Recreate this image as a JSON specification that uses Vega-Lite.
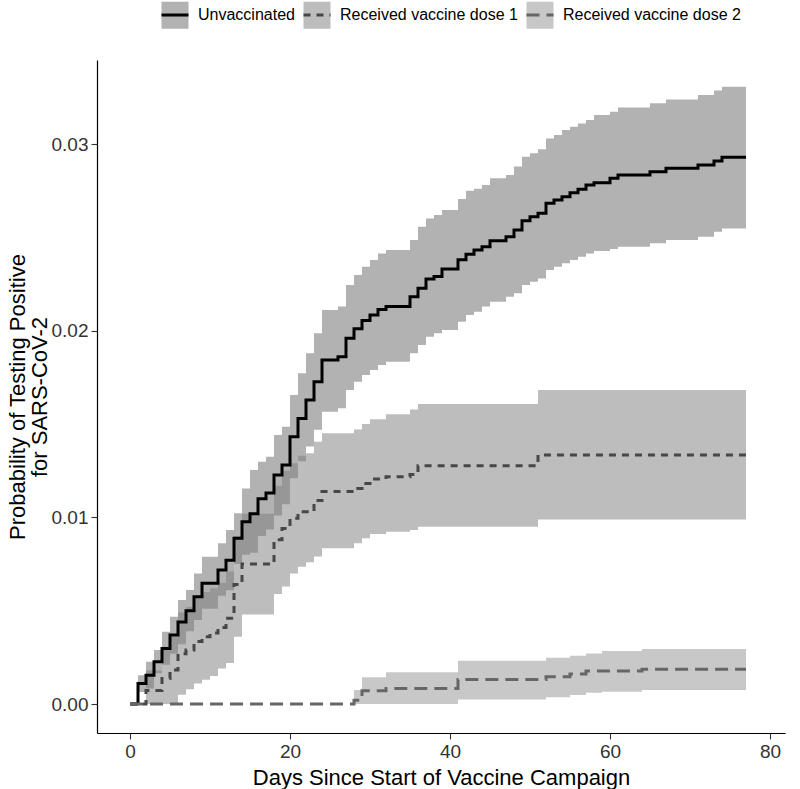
{
  "$schema": "https://vega.github.io/schema/vega-lite/v6.json",
  "width": 688,
  "height": 673,
  "autosize": {"type": "none"},
  "padding": {"left": 97, "top": 60, "right": 15, "bottom": 56},
  "background": "white",
  "config": {
    "view": {"stroke": null},
    "font": "Liberation Sans",
    "legend": {"labelLimit": 400},
    "axis": {
      "grid": false,
      "domainColor": "#000000",
      "domainWidth": 1.2,
      "tickColor": "#333333",
      "tickWidth": 1.1,
      "tickSize": 6,
      "labelColor": "#333333",
      "labelFont": "Liberation Sans",
      "labelFontSize": 19,
      "labelPadding": 3,
      "titleFont": "Liberation Sans",
      "titleFontSize": 22,
      "titleFontWeight": "normal",
      "titleColor": "#000000"
    }
  },
  "datasets": {
    "bands": [
      {"series": "Unvaccinated CI", "day": 0, "lo": 0, "hi": 0},
      {"series": "Unvaccinated CI", "day": 1, "lo": 0.00065, "hi": 0.00155},
      {"series": "Unvaccinated CI", "day": 2, "lo": 0.00083, "hi": 0.00227},
      {"series": "Unvaccinated CI", "day": 3, "lo": 0.00165, "hi": 0.00289},
      {"series": "Unvaccinated CI", "day": 4, "lo": 0.0021, "hi": 0.00387},
      {"series": "Unvaccinated CI", "day": 5, "lo": 0.0027, "hi": 0.00468},
      {"series": "Unvaccinated CI", "day": 6, "lo": 0.0032, "hi": 0.00557},
      {"series": "Unvaccinated CI", "day": 7, "lo": 0.0039, "hi": 0.00611},
      {"series": "Unvaccinated CI", "day": 8, "lo": 0.0045, "hi": 0.007},
      {"series": "Unvaccinated CI", "day": 9, "lo": 0.0051, "hi": 0.00789},
      {"series": "Unvaccinated CI", "day": 11, "lo": 0.0058, "hi": 0.00861},
      {"series": "Unvaccinated CI", "day": 12, "lo": 0.0061, "hi": 0.00932},
      {"series": "Unvaccinated CI", "day": 13, "lo": 0.0075, "hi": 0.01022},
      {"series": "Unvaccinated CI", "day": 14, "lo": 0.008, "hi": 0.01155},
      {"series": "Unvaccinated CI", "day": 15, "lo": 0.0081, "hi": 0.01254},
      {"series": "Unvaccinated CI", "day": 16, "lo": 0.009, "hi": 0.01298},
      {"series": "Unvaccinated CI", "day": 17, "lo": 0.00935, "hi": 0.01325},
      {"series": "Unvaccinated CI", "day": 18, "lo": 0.0101, "hi": 0.01441},
      {"series": "Unvaccinated CI", "day": 19, "lo": 0.0107, "hi": 0.01486},
      {"series": "Unvaccinated CI", "day": 20, "lo": 0.0121, "hi": 0.01655},
      {"series": "Unvaccinated CI", "day": 21, "lo": 0.013, "hi": 0.01772},
      {"series": "Unvaccinated CI", "day": 22, "lo": 0.0138, "hi": 0.01879},
      {"series": "Unvaccinated CI", "day": 23, "lo": 0.0147, "hi": 0.01986},
      {"series": "Unvaccinated CI", "day": 24, "lo": 0.01566, "hi": 0.02111},
      {"series": "Unvaccinated CI", "day": 26, "lo": 0.01584, "hi": 0.02129},
      {"series": "Unvaccinated CI", "day": 27, "lo": 0.01682, "hi": 0.02245},
      {"series": "Unvaccinated CI", "day": 28, "lo": 0.01727, "hi": 0.02298},
      {"series": "Unvaccinated CI", "day": 29, "lo": 0.01763, "hi": 0.02343},
      {"series": "Unvaccinated CI", "day": 30, "lo": 0.01789, "hi": 0.02379},
      {"series": "Unvaccinated CI", "day": 31, "lo": 0.01816, "hi": 0.02414},
      {"series": "Unvaccinated CI", "day": 32, "lo": 0.01834, "hi": 0.02432},
      {"series": "Unvaccinated CI", "day": 35, "lo": 0.01879, "hi": 0.02486},
      {"series": "Unvaccinated CI", "day": 36, "lo": 0.01923, "hi": 0.02557},
      {"series": "Unvaccinated CI", "day": 37, "lo": 0.01968, "hi": 0.02601},
      {"series": "Unvaccinated CI", "day": 38, "lo": 0.01986, "hi": 0.0262},
      {"series": "Unvaccinated CI", "day": 39, "lo": 0.02004, "hi": 0.02646},
      {"series": "Unvaccinated CI", "day": 41, "lo": 0.02048, "hi": 0.02705},
      {"series": "Unvaccinated CI", "day": 42, "lo": 0.02084, "hi": 0.0275},
      {"series": "Unvaccinated CI", "day": 43, "lo": 0.02102, "hi": 0.0276},
      {"series": "Unvaccinated CI", "day": 44, "lo": 0.02129, "hi": 0.0278},
      {"series": "Unvaccinated CI", "day": 45, "lo": 0.02155, "hi": 0.02816},
      {"series": "Unvaccinated CI", "day": 47, "lo": 0.02182, "hi": 0.02834},
      {"series": "Unvaccinated CI", "day": 48, "lo": 0.022, "hi": 0.02879},
      {"series": "Unvaccinated CI", "day": 49, "lo": 0.02245, "hi": 0.02932},
      {"series": "Unvaccinated CI", "day": 50, "lo": 0.02262, "hi": 0.0295},
      {"series": "Unvaccinated CI", "day": 51, "lo": 0.0228, "hi": 0.02972},
      {"series": "Unvaccinated CI", "day": 52, "lo": 0.02325, "hi": 0.0303},
      {"series": "Unvaccinated CI", "day": 53, "lo": 0.02343, "hi": 0.03048},
      {"series": "Unvaccinated CI", "day": 54, "lo": 0.02361, "hi": 0.03075},
      {"series": "Unvaccinated CI", "day": 55, "lo": 0.02379, "hi": 0.03093},
      {"series": "Unvaccinated CI", "day": 56, "lo": 0.02396, "hi": 0.0311},
      {"series": "Unvaccinated CI", "day": 57, "lo": 0.02414, "hi": 0.03129},
      {"series": "Unvaccinated CI", "day": 58, "lo": 0.02427, "hi": 0.03155},
      {"series": "Unvaccinated CI", "day": 60, "lo": 0.02437, "hi": 0.03173},
      {"series": "Unvaccinated CI", "day": 61, "lo": 0.0245, "hi": 0.03196},
      {"series": "Unvaccinated CI", "day": 65, "lo": 0.02468, "hi": 0.03218},
      {"series": "Unvaccinated CI", "day": 67, "lo": 0.02486, "hi": 0.03239},
      {"series": "Unvaccinated CI", "day": 71, "lo": 0.02503, "hi": 0.03262},
      {"series": "Unvaccinated CI", "day": 73, "lo": 0.0253, "hi": 0.03286},
      {"series": "Unvaccinated CI", "day": 74, "lo": 0.02548, "hi": 0.03307},
      {"series": "Unvaccinated CI", "day": 77, "lo": 0.02548, "hi": 0.03307},
      {"series": "Received vaccine dose 1 CI", "day": 0, "lo": 0, "hi": 0},
      {"series": "Received vaccine dose 1 CI", "day": 2, "lo": 0, "hi": 0.0018},
      {"series": "Received vaccine dose 1 CI", "day": 4, "lo": 0, "hi": 0.0029},
      {"series": "Received vaccine dose 1 CI", "day": 5, "lo": 0, "hi": 0.0036},
      {"series": "Received vaccine dose 1 CI", "day": 6, "lo": 0.0005, "hi": 0.0049},
      {"series": "Received vaccine dose 1 CI", "day": 7, "lo": 0.0008, "hi": 0.0052},
      {"series": "Received vaccine dose 1 CI", "day": 8, "lo": 0.0011, "hi": 0.0058},
      {"series": "Received vaccine dose 1 CI", "day": 9, "lo": 0.0013, "hi": 0.006},
      {"series": "Received vaccine dose 1 CI", "day": 10, "lo": 0.0015, "hi": 0.0062},
      {"series": "Received vaccine dose 1 CI", "day": 11, "lo": 0.0019, "hi": 0.0065},
      {"series": "Received vaccine dose 1 CI", "day": 12, "lo": 0.0022, "hi": 0.0071},
      {"series": "Received vaccine dose 1 CI", "day": 13, "lo": 0.0036, "hi": 0.009},
      {"series": "Received vaccine dose 1 CI", "day": 14, "lo": 0.0048, "hi": 0.0102},
      {"series": "Received vaccine dose 1 CI", "day": 18, "lo": 0.0059, "hi": 0.0117},
      {"series": "Received vaccine dose 1 CI", "day": 19, "lo": 0.0063, "hi": 0.0125},
      {"series": "Received vaccine dose 1 CI", "day": 20, "lo": 0.007, "hi": 0.0129},
      {"series": "Received vaccine dose 1 CI", "day": 21, "lo": 0.00736, "hi": 0.0133},
      {"series": "Received vaccine dose 1 CI", "day": 22, "lo": 0.0076, "hi": 0.01343},
      {"series": "Received vaccine dose 1 CI", "day": 23, "lo": 0.0079, "hi": 0.01405},
      {"series": "Received vaccine dose 1 CI", "day": 24, "lo": 0.00834, "hi": 0.0145},
      {"series": "Received vaccine dose 1 CI", "day": 28, "lo": 0.00861, "hi": 0.01471},
      {"series": "Received vaccine dose 1 CI", "day": 29, "lo": 0.00888, "hi": 0.015},
      {"series": "Received vaccine dose 1 CI", "day": 30, "lo": 0.00911, "hi": 0.01525},
      {"series": "Received vaccine dose 1 CI", "day": 32, "lo": 0.00923, "hi": 0.01552},
      {"series": "Received vaccine dose 1 CI", "day": 35, "lo": 0.00932, "hi": 0.01578},
      {"series": "Received vaccine dose 1 CI", "day": 36, "lo": 0.0095, "hi": 0.01607},
      {"series": "Received vaccine dose 1 CI", "day": 51, "lo": 0.00989, "hi": 0.01682},
      {"series": "Received vaccine dose 1 CI", "day": 77, "lo": 0.00989, "hi": 0.01682},
      {"series": "Received vaccine dose 2 CI", "day": 0, "lo": 0, "hi": 0},
      {"series": "Received vaccine dose 2 CI", "day": 28, "lo": 0, "hi": 0.00075},
      {"series": "Received vaccine dose 2 CI", "day": 29, "lo": 0, "hi": 0.00143},
      {"series": "Received vaccine dose 2 CI", "day": 32, "lo": 0, "hi": 0.0017},
      {"series": "Received vaccine dose 2 CI", "day": 41, "lo": 0.00025, "hi": 0.00232},
      {"series": "Received vaccine dose 2 CI", "day": 52, "lo": 0.00036, "hi": 0.00248},
      {"series": "Received vaccine dose 2 CI", "day": 55, "lo": 0.00048, "hi": 0.00259},
      {"series": "Received vaccine dose 2 CI", "day": 57, "lo": 0.00061, "hi": 0.00271},
      {"series": "Received vaccine dose 2 CI", "day": 59, "lo": 0.00066, "hi": 0.00284},
      {"series": "Received vaccine dose 2 CI", "day": 64, "lo": 0.00075, "hi": 0.00295},
      {"series": "Received vaccine dose 2 CI", "day": 77, "lo": 0.00075, "hi": 0.00295}
    ],
    "lines": [
      {"group": "Unvaccinated", "day": 0, "p": 0},
      {"group": "Unvaccinated", "day": 1, "p": 0.0011},
      {"group": "Unvaccinated", "day": 2, "p": 0.00155},
      {"group": "Unvaccinated", "day": 3, "p": 0.00227},
      {"group": "Unvaccinated", "day": 4, "p": 0.00298},
      {"group": "Unvaccinated", "day": 5, "p": 0.0037},
      {"group": "Unvaccinated", "day": 6, "p": 0.0044},
      {"group": "Unvaccinated", "day": 7, "p": 0.005},
      {"group": "Unvaccinated", "day": 8, "p": 0.00575},
      {"group": "Unvaccinated", "day": 9, "p": 0.00647},
      {"group": "Unvaccinated", "day": 11, "p": 0.00718},
      {"group": "Unvaccinated", "day": 12, "p": 0.0077},
      {"group": "Unvaccinated", "day": 13, "p": 0.00888},
      {"group": "Unvaccinated", "day": 14, "p": 0.00977},
      {"group": "Unvaccinated", "day": 15, "p": 0.0102},
      {"group": "Unvaccinated", "day": 16, "p": 0.011},
      {"group": "Unvaccinated", "day": 17, "p": 0.0113},
      {"group": "Unvaccinated", "day": 18, "p": 0.01227},
      {"group": "Unvaccinated", "day": 19, "p": 0.0128},
      {"group": "Unvaccinated", "day": 20, "p": 0.01432},
      {"group": "Unvaccinated", "day": 21, "p": 0.0153},
      {"group": "Unvaccinated", "day": 22, "p": 0.01629},
      {"group": "Unvaccinated", "day": 23, "p": 0.01727},
      {"group": "Unvaccinated", "day": 24, "p": 0.01843},
      {"group": "Unvaccinated", "day": 26, "p": 0.0186},
      {"group": "Unvaccinated", "day": 27, "p": 0.0196},
      {"group": "Unvaccinated", "day": 28, "p": 0.0201},
      {"group": "Unvaccinated", "day": 29, "p": 0.02054},
      {"group": "Unvaccinated", "day": 30, "p": 0.02084},
      {"group": "Unvaccinated", "day": 31, "p": 0.02114},
      {"group": "Unvaccinated", "day": 32, "p": 0.0213},
      {"group": "Unvaccinated", "day": 35, "p": 0.02182},
      {"group": "Unvaccinated", "day": 36, "p": 0.02227},
      {"group": "Unvaccinated", "day": 37, "p": 0.02277},
      {"group": "Unvaccinated", "day": 38, "p": 0.0229},
      {"group": "Unvaccinated", "day": 39, "p": 0.0233},
      {"group": "Unvaccinated", "day": 41, "p": 0.0238},
      {"group": "Unvaccinated", "day": 42, "p": 0.0241},
      {"group": "Unvaccinated", "day": 43, "p": 0.02432},
      {"group": "Unvaccinated", "day": 44, "p": 0.0245},
      {"group": "Unvaccinated", "day": 45, "p": 0.02482},
      {"group": "Unvaccinated", "day": 47, "p": 0.02503},
      {"group": "Unvaccinated", "day": 48, "p": 0.02539},
      {"group": "Unvaccinated", "day": 49, "p": 0.02589},
      {"group": "Unvaccinated", "day": 50, "p": 0.02611},
      {"group": "Unvaccinated", "day": 51, "p": 0.02629},
      {"group": "Unvaccinated", "day": 52, "p": 0.02682},
      {"group": "Unvaccinated", "day": 53, "p": 0.027},
      {"group": "Unvaccinated", "day": 54, "p": 0.02718},
      {"group": "Unvaccinated", "day": 55, "p": 0.02739},
      {"group": "Unvaccinated", "day": 56, "p": 0.02757},
      {"group": "Unvaccinated", "day": 57, "p": 0.0278},
      {"group": "Unvaccinated", "day": 58, "p": 0.02793},
      {"group": "Unvaccinated", "day": 60, "p": 0.02816},
      {"group": "Unvaccinated", "day": 61, "p": 0.02834},
      {"group": "Unvaccinated", "day": 65, "p": 0.02852},
      {"group": "Unvaccinated", "day": 67, "p": 0.0287},
      {"group": "Unvaccinated", "day": 71, "p": 0.02887},
      {"group": "Unvaccinated", "day": 73, "p": 0.02909},
      {"group": "Unvaccinated", "day": 74, "p": 0.02929},
      {"group": "Unvaccinated", "day": 77, "p": 0.02929},
      {"group": "Received vaccine dose 1", "day": 0, "p": 0},
      {"group": "Received vaccine dose 1", "day": 2, "p": 0.00073},
      {"group": "Received vaccine dose 1", "day": 4, "p": 0.00137},
      {"group": "Received vaccine dose 1", "day": 5, "p": 0.00182},
      {"group": "Received vaccine dose 1", "day": 6, "p": 0.0027},
      {"group": "Received vaccine dose 1", "day": 7, "p": 0.0029},
      {"group": "Received vaccine dose 1", "day": 8, "p": 0.00335},
      {"group": "Received vaccine dose 1", "day": 9, "p": 0.0036},
      {"group": "Received vaccine dose 1", "day": 10, "p": 0.0038},
      {"group": "Received vaccine dose 1", "day": 11, "p": 0.0041},
      {"group": "Received vaccine dose 1", "day": 12, "p": 0.0046},
      {"group": "Received vaccine dose 1", "day": 13, "p": 0.0064},
      {"group": "Received vaccine dose 1", "day": 14, "p": 0.0075},
      {"group": "Received vaccine dose 1", "day": 18, "p": 0.0088},
      {"group": "Received vaccine dose 1", "day": 19, "p": 0.0094},
      {"group": "Received vaccine dose 1", "day": 20, "p": 0.00995},
      {"group": "Received vaccine dose 1", "day": 21, "p": 0.0103},
      {"group": "Received vaccine dose 1", "day": 23, "p": 0.0109},
      {"group": "Received vaccine dose 1", "day": 24, "p": 0.01138},
      {"group": "Received vaccine dose 1", "day": 28, "p": 0.01155},
      {"group": "Received vaccine dose 1", "day": 29, "p": 0.01182},
      {"group": "Received vaccine dose 1", "day": 30, "p": 0.01205},
      {"group": "Received vaccine dose 1", "day": 32, "p": 0.01218},
      {"group": "Received vaccine dose 1", "day": 35, "p": 0.0123},
      {"group": "Received vaccine dose 1", "day": 36, "p": 0.01277},
      {"group": "Received vaccine dose 1", "day": 51, "p": 0.01334},
      {"group": "Received vaccine dose 1", "day": 77, "p": 0.01334},
      {"group": "Received vaccine dose 2", "day": 0, "p": 0},
      {"group": "Received vaccine dose 2", "day": 28, "p": 0.0002},
      {"group": "Received vaccine dose 2", "day": 29, "p": 0.00071},
      {"group": "Received vaccine dose 2", "day": 32, "p": 0.00084},
      {"group": "Received vaccine dose 2", "day": 41, "p": 0.00132},
      {"group": "Received vaccine dose 2", "day": 52, "p": 0.00146},
      {"group": "Received vaccine dose 2", "day": 55, "p": 0.00161},
      {"group": "Received vaccine dose 2", "day": 57, "p": 0.00177},
      {"group": "Received vaccine dose 2", "day": 64, "p": 0.00187},
      {"group": "Received vaccine dose 2", "day": 77, "p": 0.00187}
    ]
  },
  "layer": [
    {
      "data": {"name": "bands"},
      "mark": {"type": "area", "interpolate": "step-after"},
      "encoding": {
        "x": {
          "field": "day", "type": "quantitative",
          "scale": {"domain": [-4.125, 81.875], "nice": false, "zero": false},
          "axis": {"values": [0, 20, 40, 60, 80], "title": "Days Since Start of Vaccine Campaign", "titlePadding": 6}
        },
        "y": {
          "field": "lo", "type": "quantitative",
          "scale": {"domain": [-0.00155, 0.0345], "nice": false, "zero": false},
          "axis": {"values": [0, 0.01, 0.02, 0.03], "format": ".2f", "title": ["Probability of Testing Positive", "for SARS-CoV-2"], "titlePadding": 0, "titleLineHeight": 22}
        },
        "y2": {"field": "hi"},
        "fill": {
          "field": "series", "type": "nominal",
          "scale": {"domain": ["Unvaccinated CI", "Received vaccine dose 1 CI", "Received vaccine dose 2 CI"], "range": ["#7f7f7f", "#7f7f7f", "#7f7f7f"]},
          "legend": {"orient": "none", "legendX": 63, "legendY": -60, "direction": "horizontal", "title": null, "symbolType": "square", "symbolSize": 729, "symbolStrokeWidth": 3, "symbolStrokeColor": "transparent", "labelFontSize": 16, "labelFont": "Liberation Sans", "labelOffset": 8, "columnPadding": 2, "labelOpacity": 0, "labelLimit": 400, "padding": 0, "labelExpr": "replace(datum.label, ' CI', '')"}
        },
        "opacity": {
          "field": "series", "type": "nominal",
          "scale": {"domain": ["Unvaccinated CI", "Received vaccine dose 1 CI", "Received vaccine dose 2 CI"], "range": [0.6, 0.43, 0.34]},
          "legend": {"orient": "none", "legendX": 63, "legendY": -60, "direction": "horizontal", "title": null, "symbolType": "square", "symbolSize": 729, "symbolStrokeWidth": 3, "symbolStrokeColor": "transparent", "labelFontSize": 16, "labelFont": "Liberation Sans", "labelOffset": 8, "columnPadding": 2, "labelOpacity": 0, "labelLimit": 400, "padding": 0, "labelExpr": "replace(datum.label, ' CI', '')"}
        }
      }
    },
    {
      "data": {"name": "lines"},
      "mark": {"type": "line", "interpolate": "step-after", "strokeWidth": 3},
      "encoding": {
        "x": {"field": "day", "type": "quantitative"},
        "y": {"field": "p", "type": "quantitative"},
        "stroke": {
          "field": "group", "type": "nominal",
          "scale": {"domain": ["Unvaccinated", "Received vaccine dose 1", "Received vaccine dose 2"], "range": ["#000000", "#474747", "#666666"]},
          "legend": {"orient": "none", "legendX": 63, "legendY": -60, "direction": "horizontal", "title": null, "symbolType": "stroke", "symbolSize": 729, "symbolStrokeWidth": 3, "labelFontSize": 16, "labelFont": "Liberation Sans", "labelColor": "#000000", "labelOffset": 8, "columnPadding": 2, "labelLimit": 400, "padding": 0}
        },
        "strokeDash": {
          "field": "group", "type": "nominal",
          "scale": {"domain": ["Unvaccinated", "Received vaccine dose 1", "Received vaccine dose 2"], "range": [[1, 0], [7, 6], [13, 7]]},
          "legend": {"orient": "none", "legendX": 63, "legendY": -60, "direction": "horizontal", "title": null, "symbolType": "stroke", "symbolSize": 729, "symbolStrokeWidth": 3, "labelFontSize": 16, "labelFont": "Liberation Sans", "labelColor": "#000000", "labelOffset": 8, "columnPadding": 2, "labelLimit": 400, "padding": 0}
        }
      }
    }
  ]
}
